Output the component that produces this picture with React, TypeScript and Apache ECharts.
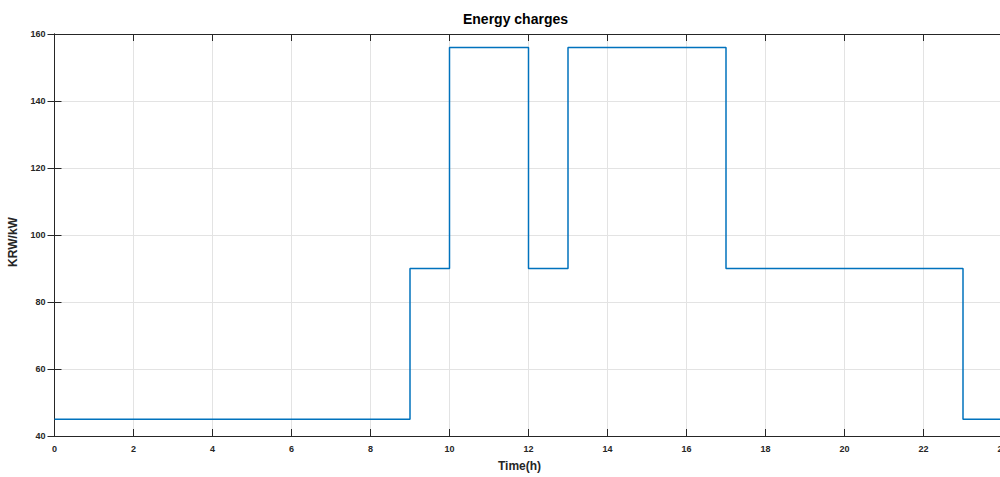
import React, { useEffect, useRef } from "react";
import * as echarts from "echarts";

const hours = [0, 9, 10, 12, 13, 17, 23, 24];
const charges = [45, 90, 156, 90, 156, 90, 45, 45];
const xTicks = [0, 24, 2];
const yTicks = [40, 160, 20];

export default function App() {
  const ref = useRef<HTMLDivElement>(null);
  useEffect(() => {
    if (!ref.current) return;
    const chart = echarts.init(ref.current, undefined, { renderer: "svg" });
    const font = "'Liberation Sans', Arial, sans-serif";
    const axisColor = "#262626";
    const lbl = { color: "#262626", fontSize: 9, fontWeight: "bold" as const, fontFamily: font };
    chart.setOption({
      animation: false,
      title: {
        text: "Energy charges",
        left: 510.5,
        top: 7,
        textAlign: "center",
        textStyle: { fontSize: 14, fontWeight: "bold", fontFamily: font, color: "#000" },
      },
      grid: { left: 54.5, top: 34, right: 1.5, bottom: 41, containLabel: false, outerBoundsMode: "none" },
      xAxis: [
        {
          type: "value",
          min: xTicks[0],
          max: xTicks[1],
          interval: xTicks[2],
          name: "Time(h)",
          nameLocation: "middle",
          nameGap: 24,
          nameTextStyle: { fontSize: 12, fontWeight: "bold", fontFamily: font, color: "#262626", padding: [0, 18, 0, 0] },
          axisLine: { show: true, lineStyle: { color: axisColor, width: 1 } },
          axisTick: { show: true, inside: true, length: 7, lineStyle: { color: axisColor } },
          axisLabel: { ...lbl, margin: 8 },
          splitLine: { show: true, lineStyle: { color: "#e3e3e3", width: 1 } },
        },
        {
          type: "value",
          position: "top",
          min: xTicks[0],
          max: xTicks[1],
          interval: xTicks[2],
          axisLine: { show: true, lineStyle: { color: axisColor, width: 1 } },
          axisTick: { show: true, inside: true, length: 7, lineStyle: { color: axisColor } },
          axisLabel: { show: false },
          splitLine: { show: false },
        },
      ],
      yAxis: [
        {
          type: "value",
          min: yTicks[0],
          max: yTicks[1],
          interval: yTicks[2],
          name: "KRW/kW",
          nameLocation: "middle",
          nameGap: 36,
          nameTextStyle: { fontSize: 12, fontWeight: "bold", fontFamily: font, color: "#262626", padding: [0, 14, 0, 0] },
          axisLine: { show: true, lineStyle: { color: axisColor, width: 1 } },
          axisTick: { show: true, inside: true, length: 7, lineStyle: { color: axisColor } },
          axisLabel: { ...lbl, margin: 9 },
          splitLine: { show: true, lineStyle: { color: "#e3e3e3", width: 1 } },
        },
        {
          type: "value",
          position: "right",
          min: yTicks[0],
          max: yTicks[1],
          interval: yTicks[2],
          axisLine: { show: true, lineStyle: { color: axisColor, width: 1 } },
          axisTick: { show: true, inside: true, length: 7, lineStyle: { color: axisColor } },
          axisLabel: { show: false },
          splitLine: { show: false },
        },
      ],
      series: [
        {
          type: "line",
          step: "end",
          data: hours.map((h, i) => [h, charges[i]]),
          showSymbol: false,
          lineStyle: { color: "#0072BD", width: 1.5 },
          itemStyle: { color: "#0072BD" },
        },
      ],
    });
    return () => chart.dispose();
  }, []);
  return (
    <div style={{ position: "absolute", left: 0, top: 0, width: 1000, height: 477, overflow: "hidden" }}>
      <div ref={ref} style={{ width: 1004, height: 477 }} />
    </div>
  );
}
